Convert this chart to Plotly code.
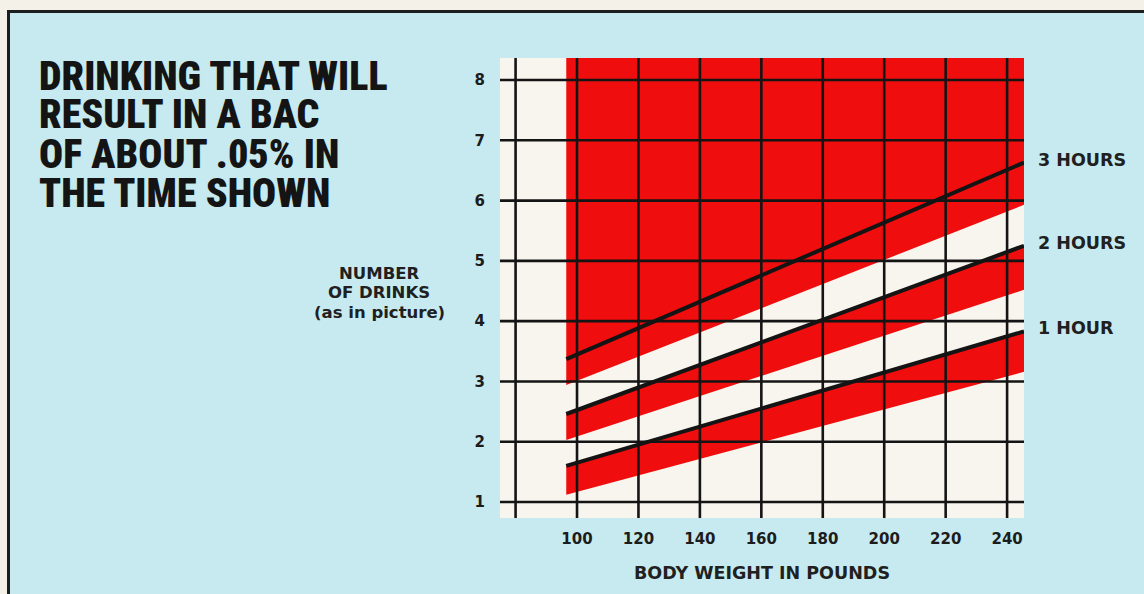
import plotly.graph_objects as go

# ---- data -------------------------------------------------------------
weight_ticks = [80, 100, 120, 140, 160, 180, 200, 220, 240]
weight_labels = ["", "100", "120", "140", "160", "180", "200", "220", "240"]
drink_ticks = [1, 2, 3, 4, 5, 6, 7, 8]
drink_labels = ["1", "2", "3", "4", "5", "6", "7", "8"]

band_weights = [96.5, 245.5]          # body weight at the ends of each band
hour_labels = ["1 HOUR", "2 HOURS", "3 HOURS"]
hour_lines = [[1.60, 3.83], [2.46, 5.25], [3.37, 6.63]]   # drinks, upper edge (black line)
hour_lower = [[1.12, 3.16], [2.03, 4.52], [2.94, 5.93]]   # drinks, lower edge of red band

title_lines = ["DRINKING THAT WILL", "RESULT IN A BAC", "OF ABOUT .05% IN", "THE TIME SHOWN"]
ytitle_lines = ["NUMBER", "OF DRINKS", "(as in picture)"]
xtitle = "BODY WEIGHT IN POUNDS"

x_range = [74.93, 245.5]
y_range = [0.735, 8.365]

# ---- styling ----------------------------------------------------------
W, H = 1144, 594
L, R, T, B = 500, 1024, 58, 518
CYAN = "#c6eaef"
CREAM = "#f8f5ee"
RED = "#f00d0d"
INK = "#141414"
PAPER_EDGE = "#f4f2e8"
BOLD = "DejaVu Sans"
NARROW = ("Roboto Condensed, Noto Sans ExtraCondensed, Noto Sans Condensed, "
          "Liberation Sans Narrow, DejaVu Sans Condensed, sans-serif")


def px(x):
    return (x - L) / (R - L)


def py(y):
    return (B - y) / (B - T)


fig = go.Figure()

# red bands: the 3-hour band runs to the top of the chart
for i, (upper, lower) in enumerate(zip(hour_lines, hour_lower)):
    top = [y_range[1]] * len(band_weights) if i == len(hour_lines) - 1 else upper
    fig.add_trace(go.Scatter(
        x=band_weights + band_weights[::-1],
        y=top + lower[::-1],
        fill="toself", fillcolor=RED, mode="lines",
        line=dict(width=0, color=RED), hoverinfo="skip", showlegend=False,
    ))

# black lines along the top of each band
for upper in hour_lines:
    fig.add_trace(go.Scatter(
        x=band_weights, y=upper, mode="lines",
        line=dict(color=INK, width=4), hoverinfo="skip", showlegend=False,
    ))

shapes = []
# grid drawn over the red fill
for v in weight_ticks:
    shapes.append(dict(type="line", xref="x", yref="paper", x0=v, x1=v, y0=0, y1=1,
                       line=dict(color=INK, width=2.6), layer="above"))
for v in drink_ticks:
    shapes.append(dict(type="line", xref="paper", yref="y", x0=0, x1=1, y0=v, y1=v,
                       line=dict(color=INK, width=2.6), layer="above"))

# page edge and frame (top and left only; the panel runs off the right and bottom)
shapes.append(dict(type="rect", xref="paper", yref="paper",
                   x0=px(0), x1=px(W), y0=py(10), y1=py(0),
                   fillcolor=PAPER_EDGE, line=dict(width=0), layer="below"))
shapes.append(dict(type="rect", xref="paper", yref="paper",
                   x0=px(0), x1=px(7), y0=py(H), y1=py(0),
                   fillcolor=PAPER_EDGE, line=dict(width=0), layer="below"))
shapes.append(dict(type="line", xref="paper", yref="paper",
                   x0=px(7), x1=px(W), y0=py(11.5), y1=py(11.5),
                   line=dict(color="#1b1f1f", width=3), layer="below"))
shapes.append(dict(type="line", xref="paper", yref="paper",
                   x0=px(8.5), x1=px(8.5), y0=py(10), y1=py(H),
                   line=dict(color="#1b1f1f", width=3), layer="below"))

annotations = []
# heading
for i, line in enumerate(title_lines):
    annotations.append(dict(
        text=line, xref="paper", yref="paper", x=px(37), y=py(76 + 39 * i),
        xanchor="left", yanchor="middle", showarrow=False,
        font=dict(family=NARROW, size=40, color=INK, weight=900),
    ))
# y-axis title
for i, line in enumerate(ytitle_lines):
    annotations.append(dict(
        text=line, xref="paper", yref="paper", x=px(379), y=py(273 + 19.5 * i),
        xanchor="center", yanchor="middle", showarrow=False,
        font=dict(family=BOLD, size=16.5, color="#202020", weight="bold"),
    ))
# x-axis title
annotations.append(dict(
    text=xtitle, xref="paper", yref="paper", x=0.5, y=py(573),
    xanchor="center", yanchor="middle", showarrow=False,
    font=dict(family=BOLD, size=17.5, color="#202020", weight="bold"),
))
# band labels at the right end of each line
for label, upper in zip(hour_labels, hour_lines):
    annotations.append(dict(
        text=label, xref="x", yref="y", x=band_weights[-1], y=upper[-1],
        xanchor="left", yanchor="middle", xshift=12, yshift=3, showarrow=False,
        font=dict(family=BOLD, size=17.5, color="#202020", weight="bold"),
    ))

axis_font = dict(family=BOLD, size=15, color="#1c1c1c", weight="bold")
fig.update_layout(
    width=W, height=H, autosize=False,
    margin=dict(l=L, r=W - R, t=T, b=H - B, pad=0),
    paper_bgcolor=CYAN, plot_bgcolor=CREAM,
    showlegend=False, hovermode=False,
    shapes=shapes, annotations=annotations,
    xaxis=dict(range=x_range, tickmode="array", tickvals=weight_ticks, ticktext=weight_labels,
               showgrid=False, zeroline=False, showline=False, ticks="",
               tickfont=axis_font, ticklabelstandoff=10, fixedrange=True),
    yaxis=dict(range=y_range, tickmode="array", tickvals=drink_ticks, ticktext=drink_labels,
               showgrid=False, zeroline=False, showline=False, ticks="",
               tickfont=axis_font, ticklabelstandoff=14, fixedrange=True),
)

fig.write_html(
    "out.html",
    config=dict(displayModeBar=False),
    post_script="document.documentElement.style.overflow='hidden';"
                "document.body.style.overflow='hidden';document.body.style.margin='0';",
)
